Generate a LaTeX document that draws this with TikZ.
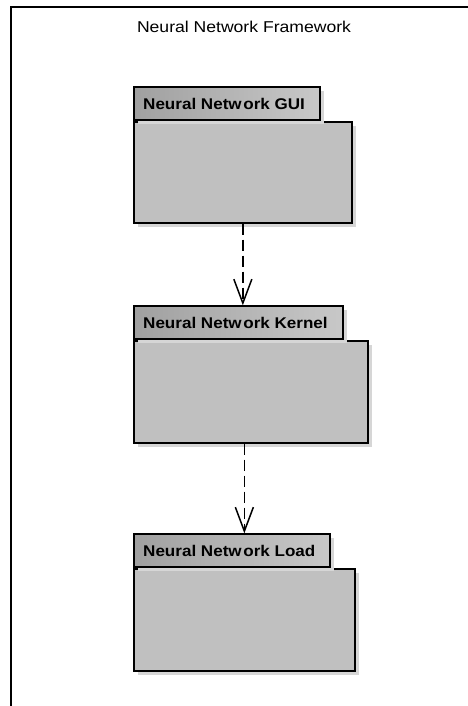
\documentclass[tikz,border=0pt]{standalone}
\usepackage{fontspec}
\setmainfont{Liberation Sans}
\usetikzlibrary{arrows.meta,shadows,calc}

\definecolor{pkgfill}{HTML}{C0C0C0}
\definecolor{tabdark}{HTML}{A0A0A0}
\definecolor{tablight}{HTML}{C8C8C8}
\definecolor{shadowgray}{HTML}{D6D6D6}

\newcommand{\titletext}[1]{\scalebox{1.12}[1]{\fontsize{15.7}{18}\selectfont #1}}
\newcommand{\pkgtext}[1]{\scalebox{1.1}[1]{\fontsize{15.5}{17}\selectfont\bfseries #1}}

\tikzset{
  pkgshadow/.style={general shadow={shadow xshift=4pt, shadow yshift=-4pt, fill=shadowgray}},
  pkgbody/.style={draw=black, line width=1.7pt, fill=pkgfill, inner sep=0pt,
                  anchor=north west, pkgshadow},
  pkgtab/.style={draw=black, line width=1.7pt, left color=tabdark, right color=tablight,
                 inner sep=0pt, anchor=south west, minimum height=33pt, pkgshadow},
  pkglabel/.style={anchor=west, inner sep=0pt},
  dependency/.style={line width=1.5pt, dash pattern=on 11pt off 5pt,
                     -{Straight Barb[length=24pt, width=18pt, line width=1.5pt]}},
}

\begin{document}
\begin{tikzpicture}[x=1pt, y=-1pt]
  \useasboundingbox (0,0) rectangle (467,706);
  \fill[white] (0,0) rectangle (467,706);

  % enclosing frame, open to the right and bottom
  \draw[line width=2.2pt] (11,710) -- (11,7) -- (470,7);
  \node (frameTitle) at (244,27) {\titletext{Neural Network Framework}};

  % GUI package
  \node[pkgbody, minimum width=218pt, minimum height=101pt] (guiBody) at (133,121) {};
  \node[pkgtab, minimum width=186pt] (guiTab) at (guiBody.north west) {};
  \node[pkglabel] (guiLbl) at ($(guiTab.west)+(10,0)$) {\pkgtext{Neural Netw\kern1.5pt ork GUI}};

  % Kernel package
  \node[pkgbody, minimum width=234pt, minimum height=102pt] (kernelBody) at (133,340) {};
  \node[pkgtab, minimum width=209pt] (kernelTab) at (kernelBody.north west) {};
  \node[pkglabel] (kernelLbl) at ($(kernelTab.west)+(10,0)$) {\pkgtext{Neural Netw\kern1.5pt ork Kernel}};

  % Load package
  \node[pkgbody, minimum width=221pt, minimum height=102pt] (loadBody) at (133,568) {};
  \node[pkgtab, minimum width=196pt] (loadTab) at (loadBody.north west) {};
  \node[pkglabel] (loadLbl) at ($(loadTab.west)+(10,0)$) {\pkgtext{Neural Netw\kern1.5pt ork Load}};

  % dependencies
  \draw[dependency] (guiBody.south) -- (guiBody.south |- kernelTab.north);
  \draw[dependency] (kernelBody.south -| loadBody.north) -- (loadTab.north -| loadBody.north);
\end{tikzpicture}
\end{document}
